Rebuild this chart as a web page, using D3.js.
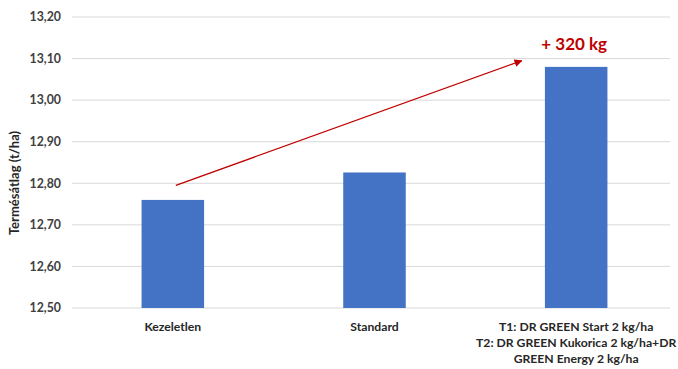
<!DOCTYPE html>
<html>
<head>
<meta charset="utf-8">
<script src="https://cdn.jsdelivr.net/npm/d3@7"></script>
<style>
  html, body { margin: 0; padding: 0; background: #fff; }
  svg { display: block; font-family: Lato, "Open Sans", sans-serif; }
</style>
</head>
<body>
<svg id="chart" width="678" height="369"></svg>
<script>
// Average yield per treatment (t/ha)
const categories = [
  ["Kezeletlen"],
  ["Standard"],
  ["T1: DR GREEN Start 2 kg/ha", "T2: DR GREEN Kukorica 2 kg/ha+DR", "GREEN Energy 2 kg/ha"]
];
const yields = [12.76, 12.826, 13.08];
const yTicks = [12.5, 12.6, 12.7, 12.8, 12.9, 13.0, 13.1, 13.2];
const yLabel = "Termésátlag (t/ha)";
const gainLabel = "+ 320 kg";
// Arrow runs from the untreated level up to the best treatment
const arrowFrom = { cat: 0, value: 12.795 };
const arrowTo = { cat: 1.73, value: 13.095 };

const svg = d3.select("#chart");
const margin = { left: 72, right: 1, top: 17, bottom: 61 };
const W = 678, H = 369;

const x = d3.scaleBand()
  .domain(d3.range(categories.length))
  .range([margin.left, W - margin.right])
  .paddingInner(0.69).paddingOuter(0.345);
const y = d3.scaleLinear().domain([12.5, 13.2]).range([H - margin.bottom, margin.top]);

// Grid lines
svg.append("g")
  .selectAll("line").data(yTicks).join("line")
  .attr("x1", margin.left).attr("x2", 670)
  .attr("y1", d => y(d)).attr("y2", d => y(d))
  .attr("stroke", "#d9d9d9").attr("stroke-width", 1);

// Y axis tick labels
const fmt = d => d3.format(".2f")(d).replace(".", ",");
svg.append("g")
  .selectAll("text").data(yTicks).join("text")
  .attr("x", 61).attr("y", d => y(d)).attr("dy", "0.35em")
  .attr("text-anchor", "end")
  .attr("font-size", 12.3).attr("font-weight", "bold").attr("fill", "#404040")
  .text(fmt);

// Y axis title
svg.append("text")
  .attr("transform", "translate(19,183) rotate(-90)")
  .attr("text-anchor", "middle")
  .attr("font-size", 13).attr("font-weight", "bold").attr("fill", "#262626")
  .text(yLabel);

// Bars
svg.append("g")
  .selectAll("rect").data(yields).join("rect")
  .attr("x", (d, i) => x(i)).attr("width", x.bandwidth())
  .attr("y", d => y(d)).attr("height", d => y(12.5) - y(d))
  .attr("fill", "#4472c4");

// Category labels
const cx = i => x(i) + x.bandwidth() / 2;
svg.append("g")
  .selectAll("text").data(categories).join("text")
  .attr("text-anchor", "middle")
  .attr("font-size", 12.2).attr("font-weight", "bold").attr("fill", "#262626")
  .each(function (lines, i) {
    d3.select(this).selectAll("tspan").data(lines).join("tspan")
      .attr("x", cx(i)).attr("y", (l, j) => 331 + j * 16)
      .text(l => l);
  });

// Arrow
const catX = c => cx(0) + c * (cx(1) - cx(0));
svg.append("defs").append("marker")
  .attr("id", "head").attr("viewBox", "0 0 10 10")
  .attr("refX", 9).attr("refY", 5)
  .attr("markerWidth", 8).attr("markerHeight", 8)
  .attr("markerUnits", "userSpaceOnUse")
  .attr("orient", "auto")
  .append("path").attr("d", "M0,0 L10,5 L0,10 Z").attr("fill", "#c00000");
svg.append("line")
  .attr("x1", catX(arrowFrom.cat) + 3).attr("y1", y(arrowFrom.value))
  .attr("x2", catX(arrowTo.cat)).attr("y2", y(arrowTo.value))
  .attr("stroke", "#c00000").attr("stroke-width", 1.3)
  .attr("marker-end", "url(#head)");

// Gain annotation
svg.append("text")
  .attr("x", cx(2) - 2).attr("y", 50)
  .attr("text-anchor", "middle")
  .attr("font-size", 17).attr("font-weight", "bold").attr("fill", "#c00000")
  .text(gainLabel);
</script>
</body>
</html>
